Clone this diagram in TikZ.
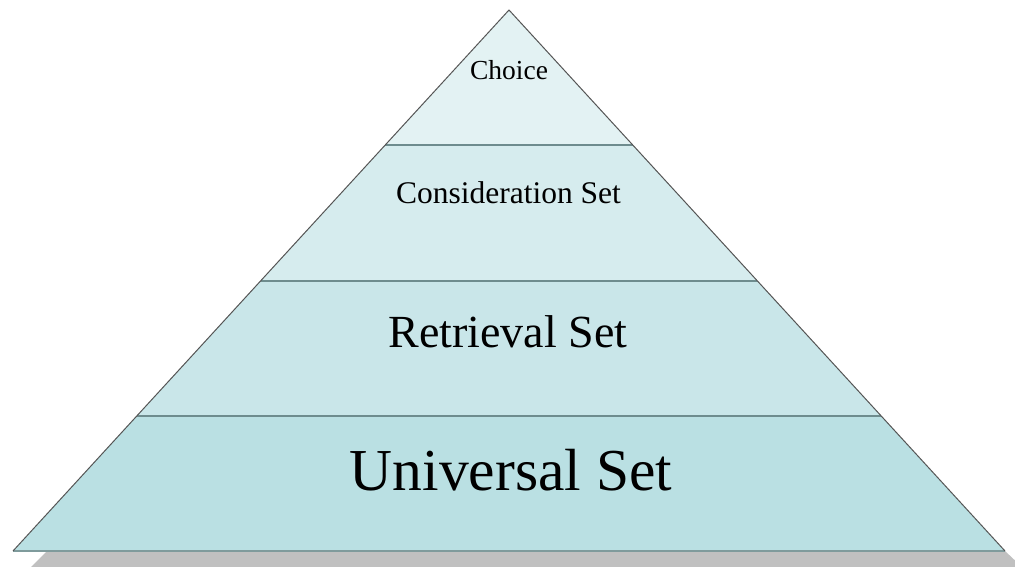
\documentclass[tikz,border=0pt]{standalone}
\usepackage{fontspec}
\setmainfont{Liberation Serif}
\usetikzlibrary{calc}
\definecolor{bandA}{HTML}{E3F2F3}
\definecolor{bandB}{HTML}{D6ECEE}
\definecolor{bandC}{HTML}{C9E6E9}
\definecolor{bandD}{HTML}{BAE0E3}
\definecolor{shadowgray}{HTML}{C0C0C0}
\definecolor{sepline}{HTML}{6E8C8E}
\definecolor{baseline}{HTML}{7F9B9C}
\definecolor{edgeline}{HTML}{555555}
\tikzset{
  label/.style={anchor=base, inner sep=0pt, text=black},
  divider/.style={draw=sepline, line width=2pt},
}
\begin{document}
\begin{tikzpicture}[x=1pt, y=-1pt]
  \useasboundingbox (0,0) rectangle (1015,567);
  \clip (0,0) rectangle (1015,567);
  % corner points of the pyramid and its levels
  \coordinate (apex) at (509,10);
  \coordinate (l1) at (385.2,145);   \coordinate (r1) at (632.8,145);
  \coordinate (l2) at (261,280.5);   \coordinate (r2) at (757,280.5);
  \coordinate (l3) at (136.8,416);   \coordinate (r3) at (881.2,416);
  \coordinate (bl) at (13,551);      \coordinate (br) at (1005,551);
  % shadow slab beneath the base
  \fill[shadowgray] (47,551) -- (1005,551) -- (1023,568) -- (30,568) -- cycle;
  % level fills
  \fill[bandA] (apex) -- (l1) -- (r1) -- cycle;
  \fill[bandB] (l1) -- (l2) -- (r2) -- (r1) -- cycle;
  \fill[bandC] (l2) -- (l3) -- (r3) -- (r2) -- cycle;
  \fill[bandD] (l3) -- (bl) -- (br) -- (r3) -- cycle;
  % dividers between levels
  \draw[divider] (l1) -- (r1);
  \draw[divider] (l2) -- (r2);
  \draw[divider] (l3) -- (r3);
  \draw[draw=baseline, line width=2.2pt] (bl) -- (br);
  % slanted sides
  \draw[edgeline, line width=1pt, line join=miter] (bl) -- (apex) -- (br);
  % level labels
  \node[label, font=\fontsize{27.5}{30}\selectfont] (choice) at (509,80) {Choice};
  \node[label, font=\fontsize{31.5}{34}\selectfont] (consider) at (508.5,204) {Consideration Set};
  \node[label, font=\fontsize{46}{50}\selectfont] (retrieve) at (508,347) {Retrieval Set};
  \node[label, font=\fontsize{59.5}{64}\selectfont] (universe) at (511,490) {Universal Set};
\end{tikzpicture}
\end{document}
